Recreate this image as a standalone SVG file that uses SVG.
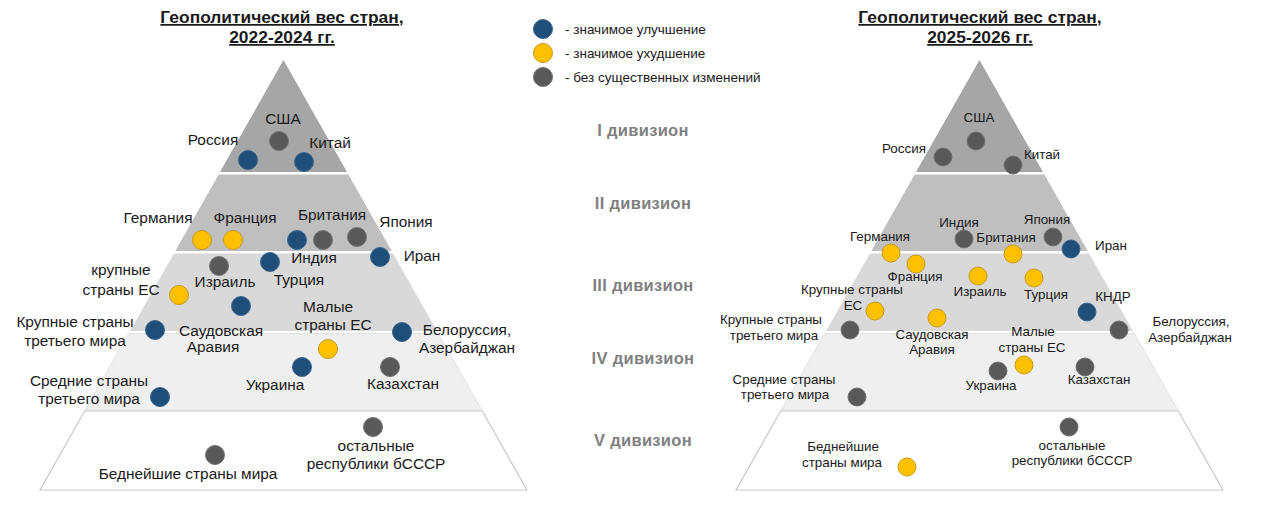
<svg xmlns="http://www.w3.org/2000/svg" xmlns:xlink="http://www.w3.org/1999/xlink" width="1280" height="530" viewBox="0 0 1280 530">
<style>
text{font-family:"Liberation Sans",Arial,sans-serif;fill:#1a1a1a}
.title{font-size:17.4px;font-weight:bold;text-anchor:middle;text-decoration:underline}
.l{font-size:15.4px;text-anchor:middle}
.r{font-size:13.4px;text-anchor:middle}
.leg{font-size:13.5px}
.div{font-size:16.5px;font-weight:bold;fill:#808080;text-anchor:middle;letter-spacing:0.3px}
.b{fill:#1f4e79;stroke:#3a6690;stroke-width:1}
.y{fill:#ffc000;stroke:#c49a1a;stroke-width:1}
.g{fill:#595959;stroke:#737373;stroke-width:1}
</style>
<defs>
<g id="pyr">
<polygon points="283.5,60 347,172 220,172" fill="#a6a6a6"/>
<polygon points="218.7,174.5 348.3,174.5 391.7,251 175.3,251" fill="#bfbfbf"/>
<polygon points="173.9,253.5 393.1,253.5 437,331 130,331" fill="#d9d9d9"/>
<polygon points="128.6,333.5 438.4,333.5 481.7,410 85.3,410" fill="#efefef" stroke="#dcdcdc" stroke-width="0.8"/>
<polygon points="84.7,411 482.3,411 527,490 40,490" fill="#ffffff" stroke="#c8c8c8" stroke-width="1.2"/>
</g>
</defs>
<rect width="1280" height="530" fill="#ffffff"/>
<g id="pyramid-left"><use xlink:href="#pyr"/></g>
<g id="pyramid-right"><use xlink:href="#pyr" transform="translate(696,0)"/></g>
<g id="titles">
<text class="title" x="282" y="23">Геополитический вес стран,</text>
<text class="title" x="282" y="43">2022-2024 гг.</text>
<text class="title" x="980" y="23">Геополитический вес стран,</text>
<text class="title" x="980" y="43">2025-2026 гг.</text>
</g>
<g id="legend">
<circle class="b" cx="543" cy="29" r="9.5"/><text class="leg" x="565" y="34">- значимое улучшение</text>
<circle class="y" cx="543" cy="53" r="9.5"/><text class="leg" x="565" y="58">- значимое ухудшение</text>
<circle class="g" cx="543" cy="77" r="9.5"/><text class="leg" x="565" y="82">- без существенных изменений</text>
</g>
<g id="divisions">
<text class="div" x="643" y="136">I дивизион</text>
<text class="div" x="643" y="209">II дивизион</text>
<text class="div" x="643" y="291">III дивизион</text>
<text class="div" x="643" y="364">IV дивизион</text>
<text class="div" x="643" y="446">V дивизион</text>
</g>
<g id="left-nodes">
<g id="L-usa"><circle class="g" cx="279" cy="141" r="9.5"/><text class="l" x="283" y="124">США</text></g>
<g id="L-russia"><circle class="b" cx="248" cy="160" r="9.5"/><text class="l" x="213" y="145">Россия</text></g>
<g id="L-china"><circle class="b" cx="304" cy="162" r="9.5"/><text class="l" x="330" y="148">Китай</text></g>
<g id="L-germany"><circle class="y" cx="202" cy="240" r="9.5"/><text class="l" x="158" y="223">Германия</text></g>
<g id="L-france"><circle class="y" cx="233" cy="240" r="9.5"/><text class="l" x="245" y="223">Франция</text></g>
<g id="L-india"><circle class="b" cx="297" cy="240" r="9.5"/><text class="l" x="314" y="263">Индия</text></g>
<g id="L-britain"><circle class="g" cx="323" cy="240" r="9.5"/><text class="l" x="332" y="220">Британия</text></g>
<g id="L-japan"><circle class="g" cx="357" cy="237" r="9.5"/><text class="l" x="406" y="227">Япония</text></g>
<g id="L-iran"><circle class="b" cx="380" cy="257" r="9.5"/><text class="l" x="422" y="261">Иран</text></g>
<g id="L-turkey"><circle class="b" cx="270" cy="262" r="9.5"/><text class="l" x="299" y="285">Турция</text></g>
<g id="L-israel"><circle class="g" cx="219" cy="266" r="9.5"/><text class="l" x="225" y="287">Израиль</text></g>
<g id="L-bigeu"><circle class="y" cx="179" cy="295" r="9.5"/><text class="l" x="121" y="275">крупные</text><text class="l" x="121" y="295">страны ЕС</text></g>
<g id="L-saudi"><circle class="b" cx="241" cy="306" r="9.5"/><text class="l" x="221" y="336">Саудовская</text><text class="l" x="213" y="352">Аравия</text></g>
<g id="L-smalleu"><circle class="y" cx="328" cy="349" r="9.5"/><text class="l" x="328" y="312">Малые</text><text class="l" x="333" y="330">страны ЕС</text></g>
<g id="L-big3"><circle class="b" cx="155" cy="330" r="9.5"/><text class="l" x="75" y="327">Крупные страны</text><text class="l" x="75" y="346">третьего мира</text></g>
<g id="L-belarus"><circle class="b" cx="402" cy="332" r="9.5"/><text class="l" x="467" y="335">Белоруссия,</text><text class="l" x="467" y="353">Азербайджан</text></g>
<g id="L-ukraine"><circle class="b" cx="302" cy="367" r="9.5"/><text class="l" x="275" y="390">Украина</text></g>
<g id="L-kazakh"><circle class="g" cx="390" cy="367" r="9.5"/><text class="l" x="403" y="389">Казахстан</text></g>
<g id="L-mid3"><circle class="b" cx="160" cy="397" r="9.5"/><text class="l" x="89" y="386">Средние страны</text><text class="l" x="89" y="404">третьего мира</text></g>
<g id="L-ussr"><circle class="g" cx="373" cy="427" r="9.5"/><text class="l" x="376" y="451">остальные</text><text class="l" x="376" y="469">республики бСССР</text></g>
<g id="L-poorest"><circle class="g" cx="215" cy="455" r="9.5"/><text class="l" x="188" y="479">Беднейшие страны мира</text></g>
</g>
<g id="right-nodes">
<g id="R-usa"><circle class="g" cx="976" cy="141" r="9"/><text class="r" x="979" y="122">США</text></g>
<g id="R-russia"><circle class="g" cx="943" cy="157" r="9"/><text class="r" x="904" y="153">Россия</text></g>
<g id="R-china"><circle class="g" cx="1013" cy="165" r="9"/><text class="r" x="1042" y="159">Китай</text></g>
<g id="R-india"><circle class="g" cx="964" cy="239" r="9"/><text class="r" x="959" y="227">Индия</text></g>
<g id="R-japan"><circle class="g" cx="1053" cy="237" r="9"/><text class="r" x="1047" y="224">Япония</text></g>
<g id="R-germany"><circle class="y" cx="891" cy="253" r="9"/><text class="r" x="880" y="241">Германия</text></g>
<g id="R-britain"><circle class="y" cx="1013" cy="254" r="9"/><text class="r" x="1006" y="242">Британия</text></g>
<g id="R-iran"><circle class="b" cx="1071" cy="249" r="9"/><text class="r" x="1111" y="250">Иран</text></g>
<g id="R-france"><circle class="y" cx="916" cy="264" r="9"/><text class="r" x="915" y="281">Франция</text></g>
<g id="R-israel"><circle class="y" cx="978" cy="276" r="9"/><text class="r" x="980" y="296">Израиль</text></g>
<g id="R-turkey"><circle class="y" cx="1034" cy="278" r="9"/><text class="r" x="1046" y="299">Турция</text></g>
<g id="R-bigeu"><circle class="y" cx="875" cy="311" r="9"/><text class="r" x="852" y="294">Крупные страны</text><text class="r" x="853" y="310">ЕС</text></g>
<g id="R-dprk"><circle class="b" cx="1087" cy="312" r="9"/><text class="r" x="1113" y="301">КНДР</text></g>
<g id="R-saudi"><circle class="y" cx="937" cy="318" r="9"/><text class="r" x="932" y="339">Саудовская</text><text class="r" x="932" y="354">Аравия</text></g>
<g id="R-big3"><circle class="g" cx="850" cy="330" r="9"/><text class="r" x="771" y="324">Крупные страны</text><text class="r" x="774" y="340">третьего мира</text></g>
<g id="R-belarus"><circle class="g" cx="1119" cy="330" r="9"/><text class="r" x="1191" y="326">Белоруссия,</text><text class="r" x="1190" y="342">Азербайджан</text></g>
<g id="R-smalleu"><circle class="y" cx="1024" cy="365" r="9"/><text class="r" x="1033" y="336">Малые</text><text class="r" x="1032" y="352">страны ЕС</text></g>
<g id="R-ukraine"><circle class="g" cx="998" cy="371" r="9"/><text class="r" x="991" y="390">Украина</text></g>
<g id="R-kazakh"><circle class="g" cx="1085" cy="367" r="9"/><text class="r" x="1099" y="384">Казахстан</text></g>
<g id="R-mid3"><circle class="g" cx="857" cy="397" r="9"/><text class="r" x="784" y="384">Средние страны</text><text class="r" x="785" y="399">третьего мира</text></g>
<g id="R-ussr"><circle class="g" cx="1069" cy="427" r="9"/><text class="r" x="1072" y="450">остальные</text><text class="r" x="1072" y="465">республики бСССР</text></g>
<g id="R-poorest"><circle class="y" cx="907" cy="467" r="9"/><text class="r" x="843" y="451">Беднейшие</text><text class="r" x="842" y="467">страны мира</text></g>
</g>
</svg>
